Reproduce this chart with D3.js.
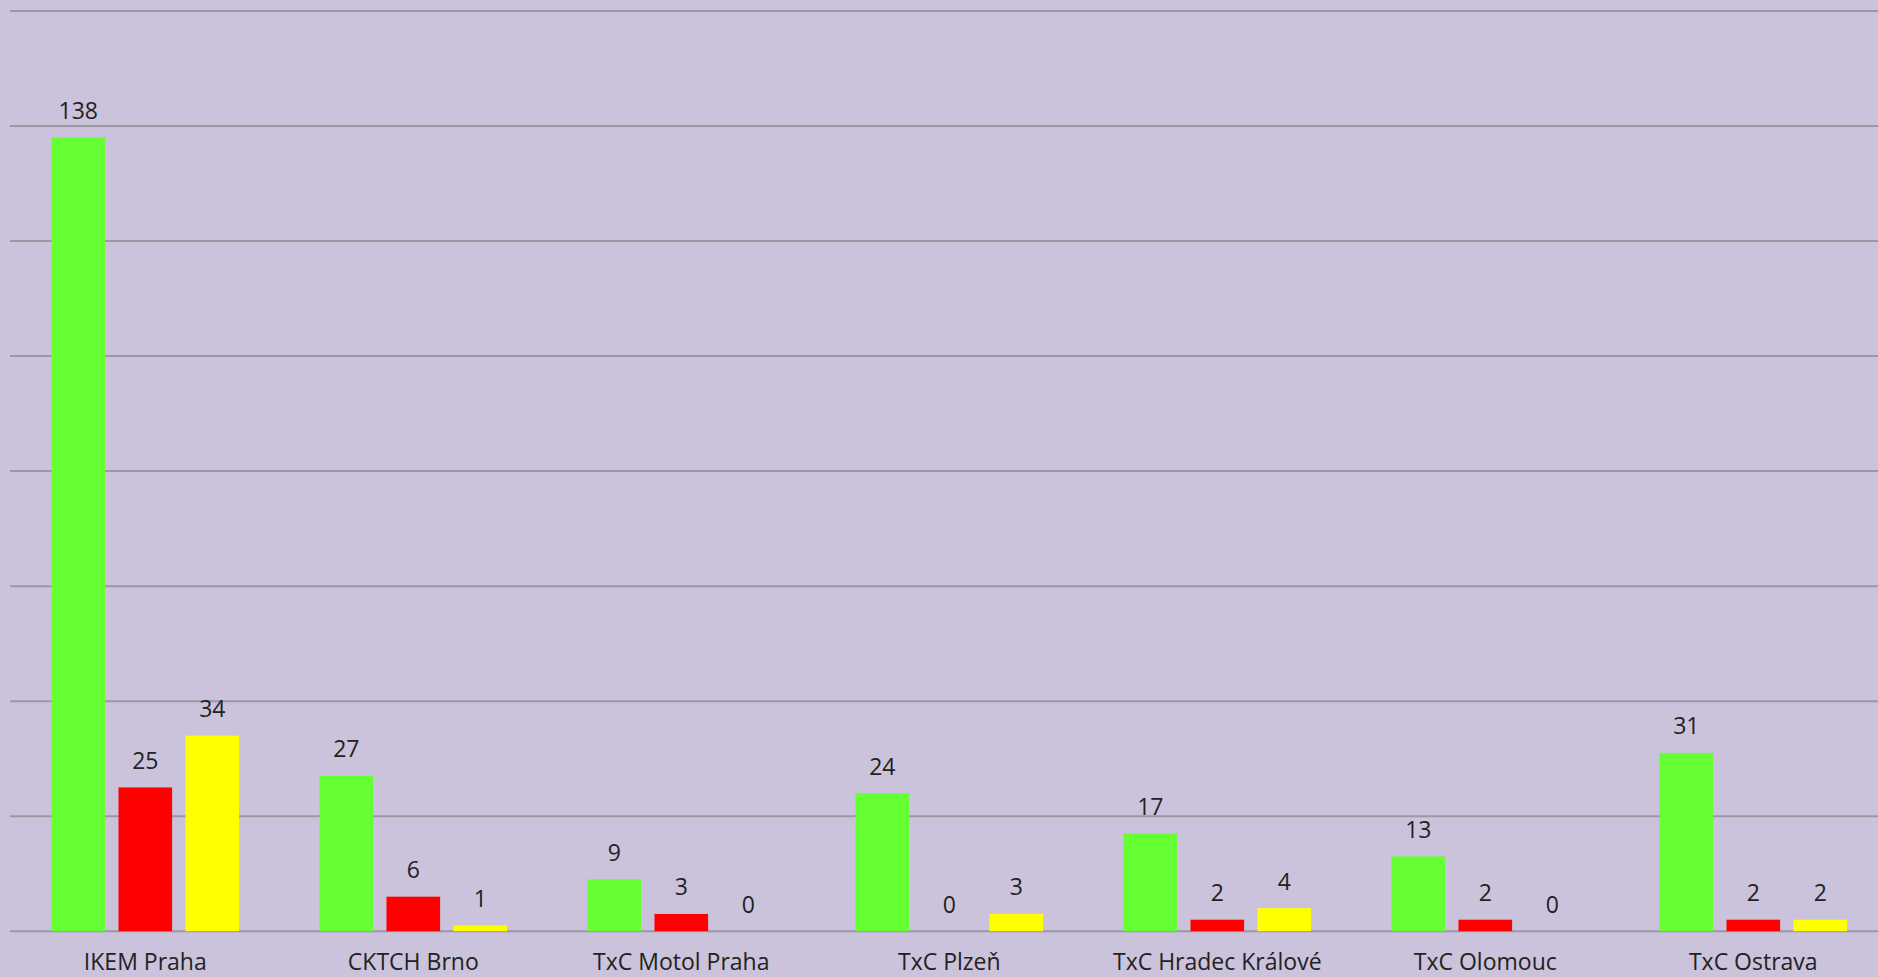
<!DOCTYPE html>
<html>
<head>
<meta charset="utf-8">
<script src="https://cdn.jsdelivr.net/npm/d3@7"></script>
<style>
  html, body { margin: 0; padding: 0; background: #cbc2db; }
  svg { display: block; }
</style>
</head>
<body>
<svg id="chart" width="1878" height="977"></svg>
<script>
const svg = d3.select("#chart");
const width = +svg.attr("width");
const height = +svg.attr("height");

// Data
const categories = ["IKEM Praha", "CKTCH Brno", "TxC Motol Praha", "TxC Plzeň", "TxC Hradec Králové", "TxC Olomouc", "TxC Ostrava"];
const seriesNames = ["green", "red", "yellow"];
const greenValues = [138, 27, 9, 24, 17, 13, 31];
const redValues = [25, 6, 3, 0, 2, 2, 2];
const yellowValues = [34, 1, 0, 3, 4, 0, 2];
const seriesColors = ["#66ff33", "#ff0000", "#ffff00"];
const yTicks = [0, 20, 40, 60, 80, 100, 120, 140, 160];

const valuesBySeries = [greenValues, redValues, yellowValues];

const rows = categories.map((name, i) => ({
  name,
  values: seriesNames.map((s, j) => ({ key: s, value: valuesBySeries[j][i], color: seriesColors[j] })),
}));

const x0 = d3.scaleBand().domain(categories).range([11.3, 1887.3]).paddingInner(0).paddingOuter(0);
const x1 = d3.scaleBand().domain(seriesNames).range([0, x0.bandwidth()]).paddingInner(0.2).paddingOuter(0.6);
const y = d3.scaleLinear().domain([0, 160]).range([931.2, 11]);

// gridlines
svg.append("g")
  .selectAll("line")
  .data(yTicks)
  .enter()
  .append("line")
  .attr("x1", 10)
  .attr("x2", width)
  .attr("y1", (d) => y(d))
  .attr("y2", (d) => y(d))
  .attr("stroke", "#9c98a2")
  .attr("stroke-width", 2);

const groups = svg.append("g")
  .selectAll("g")
  .data(rows)
  .enter()
  .append("g")
  .attr("transform", (d) => `translate(${x0(d.name)},0)`);

groups.selectAll("rect")
  .data((d) => d.values)
  .enter()
  .append("rect")
  .attr("x", (d) => x1(d.key))
  .attr("width", x1.bandwidth())
  .attr("y", (d) => y(d.value))
  .attr("height", (d) => y(0) - y(d.value))
  .attr("fill", (d) => d.color);

groups.selectAll("text")
  .data((d) => d.values)
  .enter()
  .append("text")
  .attr("x", (d) => x1(d.key) + x1.bandwidth() / 2)
  .attr("y", (d) => y(d.value) - 18.5)
  .attr("text-anchor", "middle")
  .attr("font-family", "Open Sans, sans-serif")
  .attr("font-size", 23)
  .attr("fill", "#222")
  .text((d) => d.value);

// category labels
svg.append("g")
  .selectAll("text")
  .data(categories)
  .enter()
  .append("text")
  .attr("x", (d) => x0(d) + x0.bandwidth() / 2)
  .attr("y", 970)
  .attr("text-anchor", "middle")
  .attr("font-family", "Open Sans, sans-serif")
  .attr("font-size", 23)
  .attr("fill", "#222")
  .text((d) => d);
</script>
</body>
</html>
